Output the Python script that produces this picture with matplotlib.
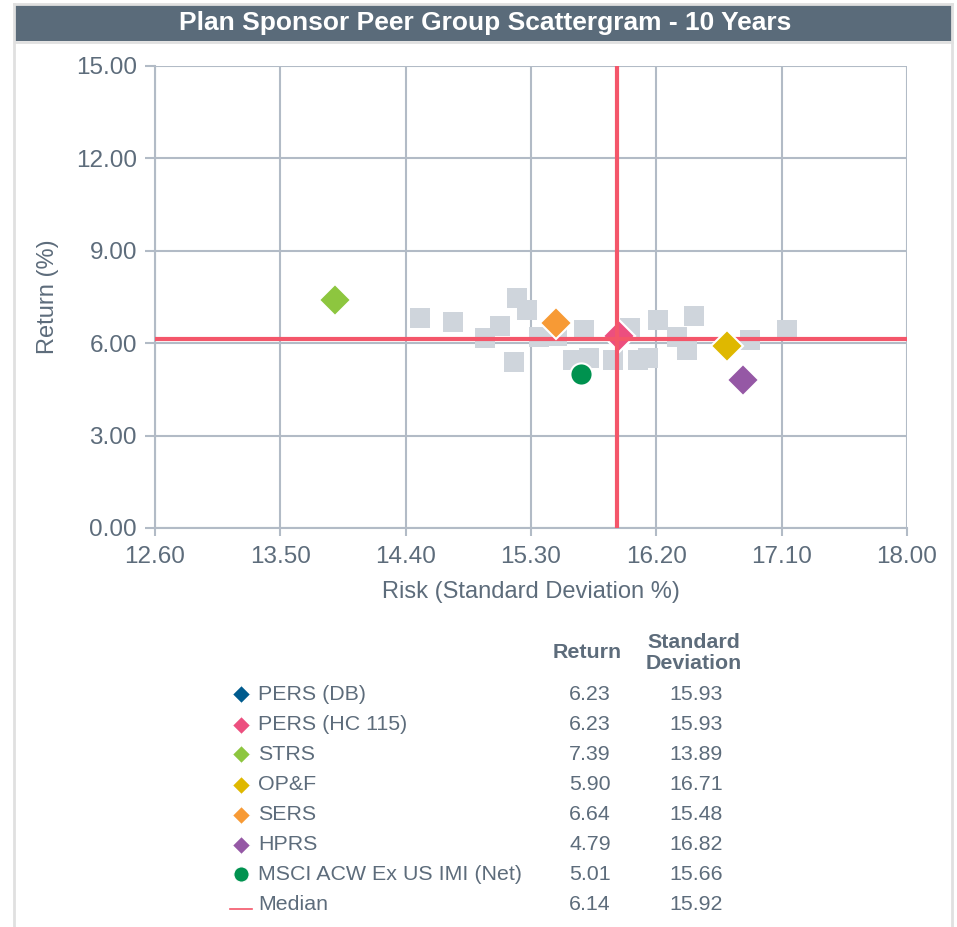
import matplotlib
matplotlib.use("Agg")
import matplotlib.pyplot as plt
from matplotlib.patches import Rectangle
from matplotlib.lines import Line2D

plt.rcParams['font.family'] = ['Liberation Sans', 'DejaVu Sans']

# ---------------- data ----------------
peer_risk = [14.50, 14.74, 14.97, 15.08, 15.20, 15.27, 15.18, 15.36, 15.49, 15.68, 15.60,
             15.72, 15.89, 16.01, 16.07, 16.14, 16.21, 16.35, 16.42, 16.47, 16.87, 17.14]
peer_return = [6.82, 6.69, 6.17, 6.56, 7.47, 7.08, 5.39, 6.20, 6.23, 6.43, 5.45,
               5.52, 5.45, 6.49, 5.45, 5.52, 6.75, 6.20, 5.78, 6.88, 6.10, 6.43]

names = ["PERS (DB)", "PERS (HC 115)", "STRS", "OP&F", "SERS", "HPRS", "MSCI ACW Ex US IMI (Net)"]
returns = [6.23, 6.23, 7.39, 5.90, 6.64, 4.79, 5.01]
stdevs = [15.93, 15.93, 13.89, 16.71, 15.48, 16.82, 15.66]
colors = ["#005b8e", "#ec4f7f", "#8dc63f", "#dfb800", "#f79a35", "#9558a5", "#00924f"]
markers = ["D", "D", "D", "D", "D", "D", "o"]

median_return = 6.14
median_risk = 15.92

x_ticks = [12.60, 13.50, 14.40, 15.30, 16.20, 17.10, 18.00]
y_ticks = [0.00, 3.00, 6.00, 9.00, 12.00, 15.00]

# ---------------- layout ----------------
W, H = 957, 927
fig = plt.figure(figsize=(W / 100, H / 100), dpi=100)

def fx(px):
    return px / W

def fy(py):
    return 1 - py / H

TEXT = "#5d6c7b"
GRID = "#b2bbc6"
MEDC = "#f4566a"
BORDER = "#e0e0e0"

# card border and title bar
for xs, ys in [([14, 14], [4, 927]), ([952, 952], [4, 927]), ([14, 952], [4, 4])]:
    fig.add_artist(Line2D([fx(v) for v in xs], [fy(v) for v in ys], transform=fig.transFigure,
                          color=BORDER, linewidth=2))
fig.add_artist(Rectangle((fx(15), fy(41)), fx(952) - fx(15), fy(5) - fy(41),
                         transform=fig.transFigure, facecolor="#5a6b7a",
                         edgecolor="none"))
fig.add_artist(Line2D([fx(15), fx(952)], [fy(42), fy(42)], transform=fig.transFigure,
                      color=BORDER, linewidth=2))
fig.text(fx(485), fy(23), "Plan Sponsor Peer Group Scattergram - 10 Years",
         color="white", fontsize=19, fontweight="bold", ha="center", va="center")

ax = fig.add_axes([fx(155), fy(528), fx(907) - fx(155), fy(66) - fy(528)])
ax.set_xlim(x_ticks[0], x_ticks[-1])
ax.set_ylim(y_ticks[0], y_ticks[-1])
ax.set_xticks(x_ticks)
ax.set_yticks(y_ticks)
ax.set_xticklabels([f"{v:.2f}" for v in x_ticks])
ax.set_yticklabels([f"{v:.2f}" for v in y_ticks])
ax.grid(True, color=GRID, linewidth=1.5, zorder=0)
ax.set_axisbelow(True)
for s in ["top", "right"]:
    ax.spines[s].set_visible(False)
for s in ["left", "bottom"]:
    ax.spines[s].set_color(GRID)
    ax.spines[s].set_linewidth(1.5)
ax.tick_params(axis="both", colors=GRID, labelcolor=TEXT, labelsize=17.5, width=1.5)
ax.tick_params(axis="x", length=6, pad=7)
ax.tick_params(axis="y", length=7, pad=6)
ax.set_xlabel("Risk (Standard Deviation %)", fontsize=17, color=TEXT, labelpad=9)
ax.set_ylabel("Return (%)", fontsize=17, color=TEXT, labelpad=12)

# peer group squares
ax.plot(peer_risk, peer_return, linestyle="none", marker="s", markersize=15,
        color="#cfd5dc", markeredgewidth=0, zorder=2, clip_on=False)

# PERS markers (below median lines)
for i in [0, 1]:
    ax.plot(stdevs[i], returns[i], linestyle="none", marker=markers[i], markersize=16.5,
            color=colors[i], markeredgecolor="white", markeredgewidth=1.5, zorder=3)

# median lines
ax.axhline(median_return, color=MEDC, linewidth=3, zorder=4)
ax.axvline(median_risk, color=MEDC, linewidth=3, zorder=4)

for i in range(2, len(names)):
    ms = 16.5 if markers[i] == "D" else 16
    ax.plot(stdevs[i], returns[i], linestyle="none", marker=markers[i], markersize=ms,
            color=colors[i], markeredgecolor="white", markeredgewidth=1.5, zorder=5)

# ---------------- legend table ----------------
FS = 15.4
fig.text(fx(587), fy(653), "Return", fontsize=FS, fontweight="bold", color=TEXT,
         ha="center", va="center")
fig.text(fx(694), fy(653), "Standard\nDeviation", fontsize=FS, fontweight="bold",
         color=TEXT, ha="center", va="center", linespacing=1.1)

row_y = [694, 725, 754, 785, 815, 845, 874, 904]
for i, name in enumerate(names):
    y = fy(row_y[i])
    ms = 9 if markers[i] == "D" else 11
    fig.add_artist(Line2D([fx(241)], [y], transform=fig.transFigure, marker=markers[i],
                          markersize=ms, color=colors[i], markeredgecolor="white",
                          markeredgewidth=0.8, linestyle="none"))
    fig.text(fx(258), y, name, fontsize=FS, color=TEXT, ha="left", va="center")
    fig.text(fx(590), y, f"{returns[i]:.2f}", fontsize=FS, color=TEXT, ha="center", va="center")
    fig.text(fx(696), y, f"{stdevs[i]:.2f}", fontsize=FS, color=TEXT, ha="center", va="center")

y = fy(row_y[7])
fig.add_artist(Line2D([fx(230), fx(252)], [fy(909), fy(909)], transform=fig.transFigure,
                      color=MEDC, linewidth=1.2))
fig.text(fx(258), y, "Median", fontsize=FS, color=TEXT, ha="left", va="center")
fig.text(fx(590), y, f"{median_return:.2f}", fontsize=FS, color=TEXT, ha="center", va="center")
fig.text(fx(696), y, f"{median_risk:.2f}", fontsize=FS, color=TEXT, ha="center", va="center")

fig.savefig("out.png", dpi=100)
